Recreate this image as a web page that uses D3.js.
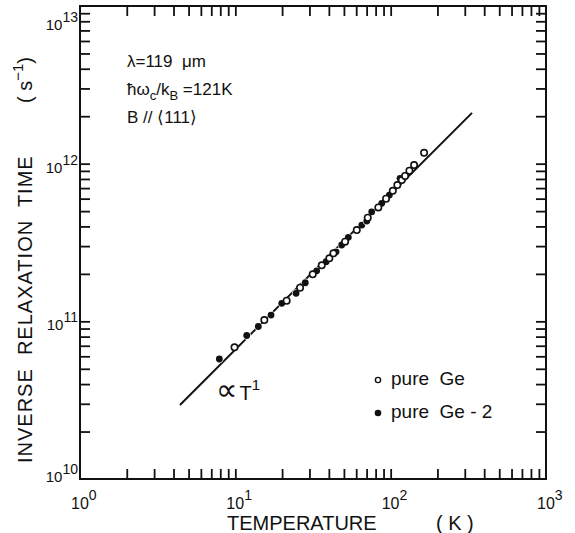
<!DOCTYPE html>
<html><head><meta charset="utf-8">
<script src="https://cdn.jsdelivr.net/npm/d3@7"></script>
<style>
body{margin:0;background:#fff;}
svg{display:block;font-family:"Liberation Sans",Arial,sans-serif;}
</style></head>
<body><svg id="c" width="575" height="533"></svg>
<script>
// ---- data ----
const pureGeT = [9.88, 15.37, 21.4, 26.1, 31.5, 36.0, 40.3, 42.8, 50.9, 60.5, 71.2, 83.3, 93.4, 103.2, 110.4, 117.9, 123.8, 132.0, 141.5, 164.1];
const pureGeV = [6.84e10, 1.019e11, 1.351e11, 1.633e11, 1.986e11, 2.265e11, 2.51e11, 2.70e11, 3.20e11, 3.79e11, 4.54e11, 5.28e11, 5.99e11, 6.73e11, 7.31e11, 7.87e11, 8.35e11, 9.02e11, 9.80e11, 1.172e12];
const pureGe2T = [7.89, 11.84, 14.06, 16.98, 19.9, 24.6, 28.2, 33.4, 38.4, 44.5, 48.4, 53.4, 65.2, 70.2, 75.5, 87.6, 98.1, 114.9];
const pureGe2V = [5.77e10, 8.13e10, 9.27e10, 1.096e11, 1.30e11, 1.505e11, 1.757e11, 2.09e11, 2.39e11, 2.76e11, 3.05e11, 3.41e11, 4.08e11, 4.33e11, 4.95e11, 5.60e11, 6.32e11, 8.07e11];
const fitT = [4.4, 334];
const fitV = [2.95e10, 2.1e12];
const xDecades = [1, 10, 100, 1000];
const yDecades = [1e10, 1e11, 1e12, 1e13];
const seriesNames = ["pure  Ge", "pure  Ge - 2"];

// ---- layout ----
const L = 80, R = 546, T = 6, B = 479;
const svg = d3.select("#c");
const x = d3.scaleLog().domain([1, 1000]).range([L, R]);
const y = d3.scaleLog().domain([1e10, 1e13]).range([B, T]);

function minorTicks(decs) {
  const out = [];
  for (let i = 0; i < decs.length - 1; i++) {
    for (let m = 1; m <= 9; m++) { if (m === 1 && i === 0) continue; out.push(decs[i] * m); }
  }
  return out;
}
const xt = minorTicks(xDecades), yt = minorTicks(yDecades);
const tl = 10;
function styleAxis(g) {
  g.select(".domain").remove();
  g.selectAll(".tick line").attr("stroke", "#111").attr("stroke-width", 1.8);
}
svg.append("g").attr("transform", `translate(0,${B})`).call(d3.axisBottom(x).tickValues(xt).tickSize(-tl).tickFormat("")).call(styleAxis);
svg.append("g").attr("transform", `translate(0,${T})`).call(d3.axisTop(x).tickValues(xt).tickSize(-tl).tickFormat("")).call(styleAxis);
svg.append("g").attr("transform", `translate(${L},0)`).call(d3.axisLeft(y).tickValues(yt).tickSize(-tl).tickFormat("")).call(styleAxis);
svg.append("g").attr("transform", `translate(${R},0)`).call(d3.axisRight(y).tickValues(yt).tickSize(-tl).tickFormat("")).call(styleAxis);
svg.append("rect").attr("x", L).attr("y", T).attr("width", R - L).attr("height", B - T)
  .attr("fill", "none").attr("stroke", "#111").attr("stroke-width", 2);

// tick labels
xDecades.forEach(d => {
  const t = svg.append("text").attr("x", x(d) - 9).attr("y", 509).attr("font-size", 16).attr("fill", "#111");
  t.append("tspan").text("10");
  t.append("tspan").attr("dy", -9).attr("font-size", 14).text(Math.round(Math.log10(d)));
});
yDecades.forEach(d => {
  const yy = Math.max(30, Math.min(482, y(d) + 9));
  const t = svg.append("text").attr("x", 78).attr("y", yy).attr("font-size", 15).attr("fill", "#111").attr("text-anchor", "end");
  t.append("tspan").text("10");
  t.append("tspan").attr("dy", -8).attr("font-size", 14).text(Math.round(Math.log10(d)));
});

// axis titles
svg.append("text").attr("x", 227).attr("y", 530).attr("font-size", 20).attr("fill", "#111").text("TEMPERATURE");
svg.append("text").attr("x", 436).attr("y", 530).attr("font-size", 20).attr("fill", "#111").attr("xml:space", "preserve").text("( K )");
svg.append("text").attr("transform", "translate(32,463) rotate(-90)").attr("font-size", 20).attr("fill", "#111")
  .attr("letter-spacing", 1).attr("xml:space", "preserve").text("INVERSE  RELAXATION  TIME");
const st = svg.append("text").attr("transform", "translate(32,103) rotate(-90)").attr("font-size", 20).attr("fill", "#111").attr("xml:space", "preserve");
st.append("tspan").text("( s");
st.append("tspan").attr("dy", -9).attr("font-size", 15).text("−1");
st.append("tspan").attr("dy", 9).text(")");

// annotations
const ann = svg.append("g").attr("font-size", 17).attr("fill", "#111");
ann.append("text").attr("x", 127).attr("y", 67).attr("xml:space", "preserve").text("λ=119  μm");
const a2 = ann.append("text").attr("x", 127).attr("y", 95);
a2.append("tspan").text("ħω");
a2.append("tspan").attr("dy", 5).attr("font-size", 13).text("c");
a2.append("tspan").attr("dy", -5).text("/k");
a2.append("tspan").attr("dy", 5).attr("font-size", 13).text("B");
a2.append("tspan").attr("dy", -5).text(" =121K");
ann.append("text").attr("x", 127).attr("y", 123).attr("xml:space", "preserve").text("B // ⟨111⟩");

// fit line
const line = d3.line().x(d => x(d[0])).y(d => y(d[1]));
svg.append("path").datum(fitT.map((t, i) => [t, fitV[i]])).attr("d", line)
  .attr("fill", "none").attr("stroke", "#111").attr("stroke-width", 2);
const pt = svg.append("text").attr("x", 216).attr("y", 400).attr("fill", "#111");
pt.append("tspan").attr("font-size", 30).attr("font-family", "DejaVu Sans").text("∝");
pt.append("tspan").attr("font-size", 20).attr("dx", 2).text("T");
pt.append("tspan").attr("dy", -10).attr("font-size", 15).text("1");

// points
svg.append("g").selectAll("circle").data(pureGe2T.map((t, i) => [t, pureGe2V[i]])).join("circle")
  .attr("cx", d => x(d[0])).attr("cy", d => y(d[1])).attr("r", 3.4)
  .attr("fill", "#111").attr("stroke", "#fff").attr("stroke-width", 1.5).attr("paint-order", "stroke");
svg.append("g").selectAll("circle").data(pureGeT.map((t, i) => [t, pureGeV[i]])).join("circle")
  .attr("cx", d => x(d[0])).attr("cy", d => y(d[1])).attr("r", 3.2)
  .attr("fill", "#fff").attr("stroke", "#111").attr("stroke-width", 1.6);

// legend
const lg = svg.append("g").attr("font-size", 19).attr("fill", "#111");
lg.append("circle").attr("cx", 378).attr("cy", 380).attr("r", 2.6).attr("fill", "#fff").attr("stroke", "#111").attr("stroke-width", 1.4);
lg.append("text").attr("x", 391).attr("y", 385).attr("xml:space", "preserve").text(seriesNames[0]);
lg.append("circle").attr("cx", 378).attr("cy", 413).attr("r", 3.3).attr("fill", "#111");
lg.append("text").attr("x", 391).attr("y", 418).attr("xml:space", "preserve").text(seriesNames[1]);
</script></body></html>
